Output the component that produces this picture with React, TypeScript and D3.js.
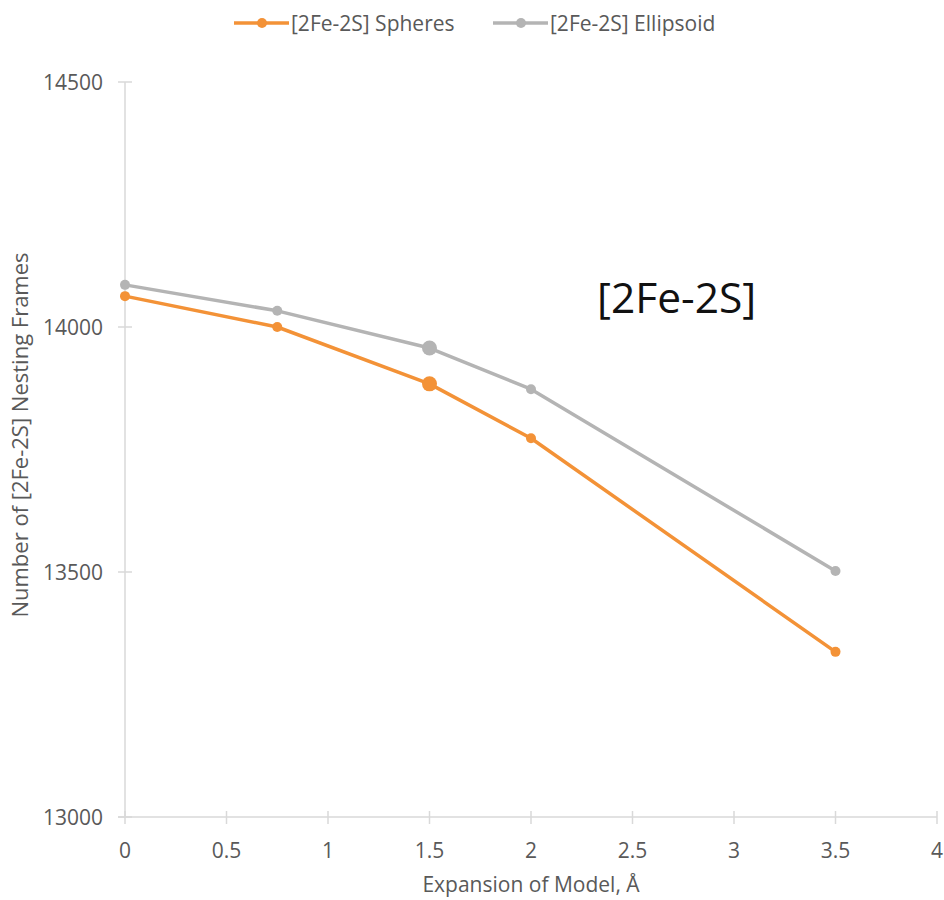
import React from "react";
import * as d3 from "d3";

const xValues = [0, 0.75, 1.5, 2, 3.5];
const spheres = [14063, 14000, 13884, 13773, 13337];
const ellipsoid = [14086, 14033, 13957, 13873, 13502];
const bigMarkerIndex = 2;
const xTicks = [0, 0.5, 1, 1.5, 2, 2.5, 3, 3.5, 4];
const yTicks = [13000, 13500, 14000, 14500];
const seriesNames = ["[2Fe-2S] Spheres", "[2Fe-2S] Ellipsoid"];
const seriesColors = ["#F39237", "#B4B4B4"];

const FONT = "'Open Sans', 'Liberation Sans', sans-serif";

export default function App() {
  const W = 944, H = 900;
  const x = d3.scaleLinear().domain([0, 4]).range([125, 937]);
  const y = d3.scaleLinear().domain([13000, 14500]).range([817, 82]);
  const line = d3.line<[number, number]>().x(d => x(d[0])).y(d => y(d[1]));
  const series = [spheres, ellipsoid];
  const axisColor = "#D9D9D9";
  const textColor = "#595959";

  return (
    <svg width={W} height={H} style={{ position: "absolute", left: 0, top: 0 }} fontFamily={FONT}>
      <rect width={W} height={H} fill="#fff" />
      <line x1={x(0)} x2={x(0)} y1={y(14500)} y2={y(13000)} stroke={axisColor} strokeWidth={1.5} />
      <line x1={x(0) - 7} x2={x(4)} y1={y(13000)} y2={y(13000)} stroke={axisColor} strokeWidth={1.5} />
      {yTicks.map(t => (
        <g key={"y" + t}>
          <line x1={x(0) - 7} x2={x(0) + 7} y1={y(t)} y2={y(t)} stroke={axisColor} strokeWidth={1.5} />
          <text x={x(0) - 22} y={y(t)} dy="0.36em" textAnchor="end" fontSize={21} fill={textColor}>{t}</text>
        </g>
      ))}
      {xTicks.map(t => (
        <g key={"x" + t}>
          <line x1={x(t)} x2={x(t)} y1={y(13000) - 6} y2={y(13000) + 7} stroke={axisColor} strokeWidth={1.5} />
          <text x={x(t)} y={y(13000) + 41} textAnchor="middle" fontSize={21} fill={textColor}>{String(t)}</text>
        </g>
      ))}
      <text x={531} y={892} textAnchor="middle" fontSize={21} fill={textColor}>Expansion of Model, Å</text>
      <text transform={`translate(28,435) rotate(-90)`} textAnchor="middle" fontSize={22} fill={textColor}>Number of [2Fe-2S] Nesting Frames</text>
      {series.slice().reverse().map((vals, ri) => {
        const i = series.length - 1 - ri;
        const pts = xValues.map((xv, k) => [xv, vals[k]] as [number, number]);
        return (
          <g key={"s" + i}>
            <path d={line(pts) || ""} fill="none" stroke={seriesColors[i]} strokeWidth={3.5} strokeLinejoin="round" />
            {pts.map((p, k) => (
              <circle key={k} cx={x(p[0])} cy={y(p[1])} r={k === bigMarkerIndex ? 7.5 : 5} fill={seriesColors[i]} />
            ))}
          </g>
        );
      })}
      <text x={597} y={313} fontSize={42.5} fill="#111">[2Fe-2S]</text>
      {seriesNames.map((name, i) => {
        const lx = i === 0 ? 234 : 493;
        return (
          <g key={"l" + i}>
            <line x1={lx} x2={lx + 55} y1={23} y2={23} stroke={seriesColors[i]} strokeWidth={3.5} />
            <circle cx={lx + 28} cy={23} r={5} fill={seriesColors[i]} />
            <text x={lx + 57} y={23} dy="0.36em" fontSize={21} fill={textColor}>{name}</text>
          </g>
        );
      })}
    </svg>
  );
}
